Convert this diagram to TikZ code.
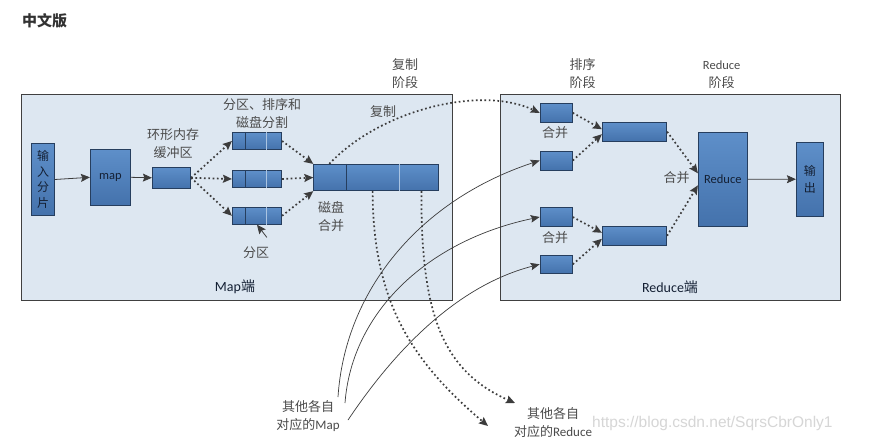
\documentclass[tikz,border=0pt]{standalone}
\usepackage{fontspec}
\setmainfont{Carlito}
\newfontfamily\cjk{Noto Sans CJK SC}
\newfontfamily\wmfont{Liberation Sans}
\usetikzlibrary{arrows.meta}
\definecolor{boxtop}{RGB}{94,143,201}
\definecolor{boxbot}{RGB}{68,114,172}
\definecolor{boxline}{RGB}{38,62,94}
\definecolor{divlight}{RGB}{170,196,226}
\definecolor{regfill}{RGB}{221,231,241}
\definecolor{regline}{RGB}{64,64,64}
\definecolor{lbl}{RGB}{75,75,75}
\definecolor{arr}{RGB}{60,60,60}
\definecolor{boxtxt}{RGB}{20,32,52}
\definecolor{wmcol}{RGB}{214,214,214}
\tikzset{
  region/.style={draw=regline, fill=regfill, line width=0.9pt, inner sep=0pt},
  bbox/.style={draw=boxline, line width=0.8pt, top color=boxtop, bottom color=boxbot,
    inner sep=0pt, font=\fontsize{12.5}{15}\selectfont, text=boxtxt, align=center},
  lab/.style={text=lbl, font=\cjk\fontsize{13}{18}\selectfont, align=center, inner sep=0pt},
  sidelab/.style={text=boxtxt, font=\fontsize{14}{18}\selectfont, inner sep=0pt},
  tipA/.style={-{Stealth[length=9pt,width=8pt,inset=1.5pt]}},
  dots/.style={tipA, draw=arr, line width=1.7pt, dash pattern=on 1.7pt off 2.6pt},
  solidarr/.style={tipA, draw=arr, line width=0.8pt},
  curvarr/.style={-{Stealth[length=9pt,width=7.5pt,inset=1.5pt]}, draw=arr, line width=0.7pt},
  divd/.style={draw=boxline, line width=0.8pt},
  divl/.style={draw=divlight, line width=0.8pt}
}
\begin{document}
\begin{tikzpicture}[x=1pt,y=-1pt]
\useasboundingbox (0,0) rectangle (892,445);
\fill[white] (0,0) rectangle (892,445);
% title
\node[font=\cjk\bfseries\fontsize{15}{18}\selectfont, text={rgb,255:red,50;green,50;blue,50}] (title) at (44.5,21) {中文版};
% regions
\node[region, minimum width=431pt, minimum height=206.5pt] (mside) at (236.5,197.5) {};
\node[region, minimum width=340pt, minimum height=206.5pt] (rside) at (670.3,197.5) {};
% map side boxes
\node[bbox, minimum width=22.6pt, minimum height=72.4pt, font=\cjk\fontsize{12}{15.4}\selectfont] (in) at (43,179.5) {输\\入\\分\\片};
\node[bbox, minimum width=40pt, minimum height=56pt] (map) at (110.3,177.3) {map};
\node[bbox, minimum width=38.4pt, minimum height=21pt] (buf) at (171.5,177.8) {};
\node[bbox, minimum width=49.4pt, minimum height=17.4pt] (p1) at (257,141) {};
\node[bbox, minimum width=49.4pt, minimum height=16.6pt] (p2) at (257,179) {};
\node[bbox, minimum width=49.4pt, minimum height=17pt] (p3) at (257,215.8) {};
\foreach \p in {p1,p2,p3}{
  \draw[divd] ([xshift=13.4pt]\p.north west) -- ([xshift=13.4pt]\p.south west);
  \draw[divl] ([xshift=34.4pt]\p.north west) -- ([xshift=34.4pt]\p.south west);
}
\node[bbox, minimum width=125pt, minimum height=26.4pt] (merge) at (376.2,177.5) {};
\draw[divd] ([xshift=33pt]merge.north west) -- ([xshift=33pt]merge.south west);
\draw[divl] ([xshift=86.3pt]merge.north west) -- ([xshift=86.3pt]merge.south west);
% reduce side boxes
\node[bbox, minimum width=32.3pt, minimum height=19pt] (r1) at (556.2,112.8) {};
\node[bbox, minimum width=32.3pt, minimum height=19pt] (r2) at (556.2,160.5) {};
\node[bbox, minimum width=32.3pt, minimum height=19.4pt] (r3) at (556.2,217) {};
\node[bbox, minimum width=32.3pt, minimum height=18pt] (r4) at (556.2,264.3) {};
\node[bbox, minimum width=64.4pt, minimum height=18.7pt] (m1) at (634.5,131.7) {};
\node[bbox, minimum width=64.4pt, minimum height=19pt] (m2) at (634.5,235.8) {};
\node[bbox, minimum width=49pt, minimum height=94pt, font=\fontsize{12.5}{15}\selectfont] (red) at (722.8,179.3) {Reduce};
\node[bbox, minimum width=27pt, minimum height=73.7pt, font=\cjk\fontsize{12}{16.5}\selectfont] (out) at (809.8,179.2) {输\\出};
% labels
\node[lab] (lcopyst) at (405,74) {复制\\阶段};
\node[lab] (lsortst) at (582.7,74) {排序\\阶段};
\node[lab] (lredst) at (721.7,75) {{\rmfamily\fontsize{12.5}{18}\selectfont Reduce}\\阶段};
\node[lab] (lpart) at (262,114) {分区、排序和\\磁盘分割};
\node[lab] (lbuf) at (173,144) {环形内存\\缓冲区};
\node[lab] (lcopy) at (383,112) {复制};
\node[lab] (ldisk) at (331,216.5) {磁盘\\合并};
\node[lab] (fq) at (256,253) {分区};
\node[sidelab] (lmap) at (235,287) {Map{\cjk 端}};
\node[sidelab] (lred) at (670,287) {Reduce{\cjk 端}};
\node[lab] (lm1) at (555,133) {合并};
\node[lab] (lm2) at (555,238) {合并};
\node[lab] (lm3) at (676.7,178) {合并};
\node[lab] (omap) at (308,416) {其他各自\\对应的{\rmfamily\fontsize{13}{18}\selectfont Map}};
\node[lab] (ored) at (553,423) {其他各自\\对应的{\rmfamily\fontsize{13}{18}\selectfont Reduce}};
\node[text=wmcol, font=\wmfont\fontsize{15.5}{17}\selectfont, anchor=west, inner sep=0pt] (wm) at (592,423) {https://blog.csdn.net/SqrsCbrOnly1};
% coordinates for free ends
\coordinate (c1) at (338,397);
\coordinate (c2) at (345,403);
\coordinate (c3) at (348,420);
\coordinate (d1) at (488,426);
\coordinate (d2) at (515,403);
% map side connectors
\draw[solidarr] (in.east) -- (map.west);
\draw[solidarr] (map.east) -- (buf.west);
\draw[dots] (buf.east) -- (p1.west);
\draw[dots] (buf.east) -- (p2.west);
\draw[dots] (buf.east) -- (p3.west);
\draw[dots] (p1.east) -- (merge.north west);
\draw[dots] (p2.east) -- (merge.west);
\draw[dots] (p3.east) -- (merge.south west);
\draw[solidarr] ([xshift=-2.3pt,yshift=9.5pt]fq.north east) -- (p3.south);
% copy
\draw[dots] ([xshift=16pt]merge.north west) .. controls (380,110) and (480,85) .. (r1.west);
% reduce side connectors
\draw[dots] (r1.east) -- ([yshift=2.5pt]m1.west);
\draw[dots] (r2.east) -- ([yshift=-2.5pt]m1.west);
\draw[dots] (r3.east) -- ([yshift=3pt]m2.west);
\draw[dots] (r4.east) -- ([yshift=-3pt]m2.west);
\draw[dots] (m1.east) -- ([yshift=6pt]red.west);
\draw[dots] (m2.east) -- ([yshift=-6pt]red.west);
\draw[solidarr] (red.east) -- (out.west);
% other maps
\draw[curvarr] (c1) .. controls (345,290) and (420,200) .. (r2.west);
\draw[curvarr] (c2) .. controls (352,310) and (430,240) .. (r3.west);
\draw[curvarr] (c3) .. controls (375,380) and (440,290) .. (r4.west);
% other reduces
\draw[dots] ([xshift=59.3pt]merge.south west) .. controls (373,300) and (410,360) .. (d1);
\draw[dots] ([xshift=-17.7pt]merge.south east) .. controls (421,310) and (440,370) .. (d2);
\end{tikzpicture}
\end{document}
